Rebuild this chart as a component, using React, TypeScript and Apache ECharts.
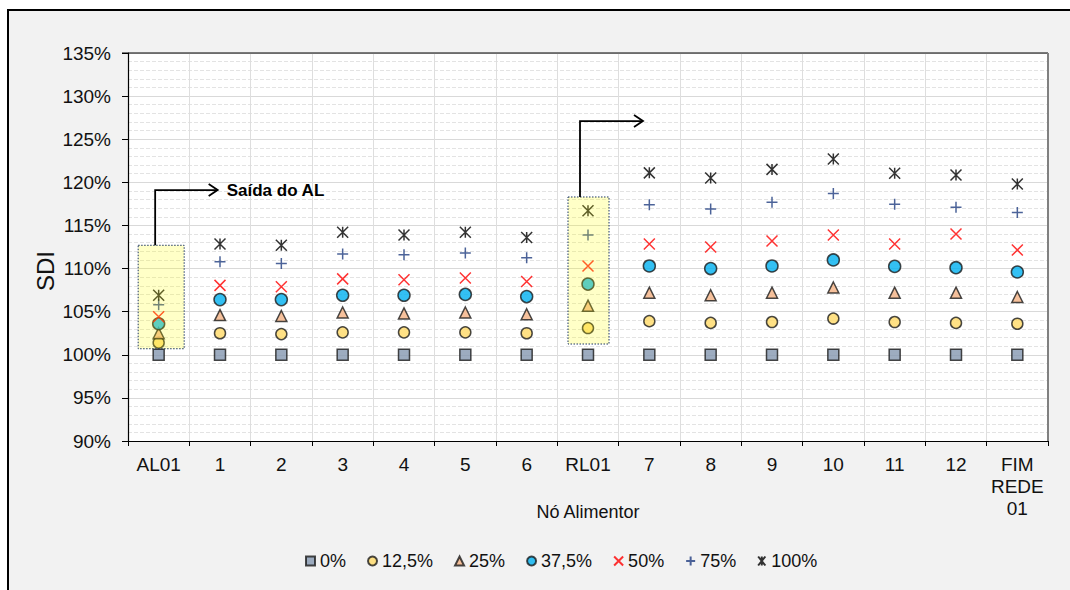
import React, { useEffect, useRef } from "react";
import * as echarts from "echarts";

const categories = ["AL01", "1", "2", "3", "4", "5", "6", "RL01", "7", "8", "9", "10", "11", "12", "FIM\nREDE\n01"];
const seriesNames = ["0%", "12,5%", "25%", "37,5%", "50%", "75%", "100%"];
const s0 = [100, 100, 100, 100, 100, 100, 100, 100, 100, 100, 100, 100, 100, 100, 100];
const s125 = [101.4, 102.5, 102.4, 102.6, 102.6, 102.6, 102.5, 103.1, 103.9, 103.7, 103.8, 104.2, 103.8, 103.7, 103.6];
const s25 = [102.5, 104.6, 104.5, 104.9, 104.8, 104.9, 104.7, 105.7, 107.2, 106.9, 107.2, 107.8, 107.2, 107.2, 106.7];
const s375 = [103.6, 106.4, 106.4, 106.9, 106.9, 107.0, 106.75, 108.2, 110.3, 110.0, 110.3, 111.0, 110.25, 110.1, 109.6];
const s50 = [104.4, 108.05, 107.9, 108.8, 108.7, 108.9, 108.5, 110.3, 112.85, 112.5, 113.2, 113.9, 112.85, 114.0, 112.15];
const s75 = [105.8, 110.8, 110.6, 111.7, 111.6, 111.8, 111.25, 113.9, 117.4, 116.9, 117.7, 118.7, 117.45, 117.1, 116.5];
const s100 = [106.9, 112.85, 112.7, 114.2, 113.9, 114.2, 113.6, 116.7, 121.1, 120.5, 121.5, 122.7, 121.05, 120.85, 119.8];

const yMin = 90;
const yMax = 135;
const yStep = 5;

// annotation ranges (value units)
const alBox = { cat: "AL01", top: 112.7, bottom: 100.7, arrowLevel: 119.1, label: "Saída do AL" };
const rlBox = { cat: "RL01", top: 118.3, bottom: 101.25, arrowLevel: 127.1 };

const FONT = "'Liberation Sans', Arial, sans-serif";

export default function App() {
  const ref = useRef<HTMLDivElement>(null);
  useEffect(() => {
    if (!ref.current) return;
    const chart = echarts.init(ref.current, null, { renderer: "svg" });
    const stroke = "#1a1a1a";
    const symbols = [
      { symbol: "rect", size: 11, style: { color: "#8497b0", borderColor: stroke, borderWidth: 1.5 } },
      { symbol: "circle", size: 11, style: { color: "#ffd966", borderColor: stroke, borderWidth: 1.5 } },
      { symbol: "triangle", size: 11, style: { color: "#f4b183", borderColor: stroke, borderWidth: 1.5 } },
      { symbol: "circle", size: 12, style: { color: "#00b0f0", borderColor: stroke, borderWidth: 1.5 } },
      { symbol: "path://M0,0L10,10M0,10L10,0", size: 11, style: { color: "rgba(0,0,0,0)", borderColor: "#ff0000", borderWidth: 1.5 } },
      { symbol: "path://M5,0L5,10M0,5L10,5", size: 11, style: { color: "rgba(0,0,0,0)", borderColor: "#1f3c80", borderWidth: 1.5 } },
      { symbol: "path://M1,0L9,10M9,0L1,10M5,0L5,10", size: 11, style: { color: "rgba(0,0,0,0)", borderColor: "#000000", borderWidth: 1.5 } },
    ];
    const data = [s0, s125, s25, s375, s50, s75, s100];
    chart.setOption({
      animation: false,
      backgroundColor: "transparent",
      textStyle: { fontFamily: FONT },
      grid: { left: 128, top: 53, width: 920, height: 388, show: true, backgroundColor: "#ffffff", borderWidth: 0 },
      legend: {
        left: 300,
        top: 547,
        itemWidth: 9,
        itemHeight: 9,
        itemGap: 21,
        textStyle: { fontSize: 18, color: "#111", fontFamily: FONT },
        data: seriesNames,
      },
      xAxis: {
        type: "category",
        data: categories,
        boundaryGap: true,
        axisLine: { lineStyle: { color: "#000", width: 1.2 } },
        axisTick: { show: true, interval: 0, length: 5, lineStyle: { color: "#000" } },
        axisLabel: { interval: 0, fontSize: 19, color: "#111", margin: 12, lineHeight: 22, fontFamily: FONT },
        splitLine: { show: true, interval: 0, lineStyle: { color: "#dedede", width: 1 } },
        name: "Nó Alimentor",
        nameLocation: "middle",
        nameGap: 62,
        nameMoveOverlap: false,
        nameTextStyle: { fontSize: 18, color: "#111", fontFamily: FONT },
      },
      yAxis: {
        type: "value",
        min: yMin,
        max: yMax,
        interval: yStep,
        axisLine: { show: true, lineStyle: { color: "#000", width: 1.2 } },
        axisTick: { show: true, length: 6, lineStyle: { color: "#000" } },
        axisLabel: { formatter: "{value}%", fontSize: 19, color: "#111", margin: 17, fontFamily: FONT },
        splitLine: { show: true, lineStyle: { color: "#d9d9d9", width: 1 } },
        minorTick: { show: false, splitNumber: 5 },
        minorSplitLine: { show: true, lineStyle: { color: "#e3e3e3", type: [4, 2], width: 1 } },
      },
      series: data.map((d, i) => ({
        name: seriesNames[i],
        type: "scatter",
        data: d,
        symbol: symbols[i].symbol,
        symbolSize: symbols[i].size,
        itemStyle: symbols[i].style,
        z: 2 + i,
      })),
    });

    const px = (cat: string, v: number) => chart.convertToPixel({ seriesIndex: 0 }, [cat, v]) as number[];
    const graphics: any[] = [];
    // plot top and right border
    const tl = px(categories[0], yMax);
    const gx0 = 128, gx1 = 1048;
    graphics.push({ type: "line", z: 50, silent: true, shape: { x1: gx0 - 6, y1: tl[1], x2: gx1, y2: tl[1] }, style: { stroke: "#000", lineWidth: 1.2 } });
    graphics.push({ type: "line", z: 50, silent: true, shape: { x1: gx1, y1: tl[1], x2: gx1, y2: px(categories[0], yMin)[1] }, style: { stroke: "#808080", lineWidth: 2 } });

    const addBox = (cat: string, top: number, bottom: number, dl: number, dr: number) => {
      const t = px(cat, top);
      const b = px(cat, bottom);
      graphics.push({
        type: "rect",
        z: 100,
        silent: true,
        shape: { x: t[0] + dl, y: t[1], width: dr - dl, height: b[1] - t[1] },
        style: { fill: "rgba(255,255,0,0.22)", stroke: "#1f3864", lineWidth: 1, lineDash: [1.5, 1.5] },
      });
    };
    const addArrow = (cat: string, top: number, level: number, dx: number, endDx: number) => {
      const t = px(cat, top);
      const l = px(cat, level);
      const x = t[0] + dx;
      const xe = t[0] + endDx;
      graphics.push({
        type: "polyline",
        z: 100,
        silent: true,
        shape: { points: [[x, t[1]], [x, l[1]], [xe, l[1]]] },
        style: { stroke: "#000", lineWidth: 1.8, fill: null },
      });
      graphics.push({
        type: "polyline",
        z: 100,
        silent: true,
        shape: { points: [[xe - 9, l[1] - 6], [xe, l[1]], [xe - 9, l[1] + 6]] },
        style: { stroke: "#000", lineWidth: 1.8, fill: null },
      });
      return [xe, l[1]];
    };
    addBox(alBox.cat, alBox.top, alBox.bottom, -20.5, 25.5);
    const alEnd = addArrow(alBox.cat, alBox.top, alBox.arrowLevel, -3.5, 59);
    graphics.push({
      type: "text",
      z: 100,
      silent: true,
      x: alEnd[0] + 9,
      y: alEnd[1],
      style: { text: alBox.label, font: `bold 17px ${FONT}`, fill: "#000", verticalAlign: "middle", align: "left" },
    });
    addBox(rlBox.cat, rlBox.top, rlBox.bottom, -20, 21);
    addArrow(rlBox.cat, rlBox.top, rlBox.arrowLevel, -8, 55);
    // y axis title
    graphics.push({
      type: "text",
      z: 100,
      silent: true,
      x: 45,
      y: 271,
      rotation: Math.PI / 2,
      style: { text: "SDI", font: `24px ${FONT}`, fill: "#111", align: "center", verticalAlign: "middle" },
    });
    chart.setOption({ graphic: graphics });

    return () => chart.dispose();
  }, []);
  return (
    <div style={{ position: "absolute", left: 0, top: 0, width: 1070, height: 590, overflow: "hidden", background: "#ffffff" }}>
      <div
        style={{
          position: "absolute",
          left: 7,
          top: 9,
          width: 1200,
          height: 700,
          background: "#f2f2f2",
          borderLeft: "2.5px solid #000",
          borderTop: "2.5px solid #000",
        }}
      />
      <div ref={ref} style={{ position: "absolute", left: 0, top: 0, width: 1070, height: 590 }} />
    </div>
  );
}
